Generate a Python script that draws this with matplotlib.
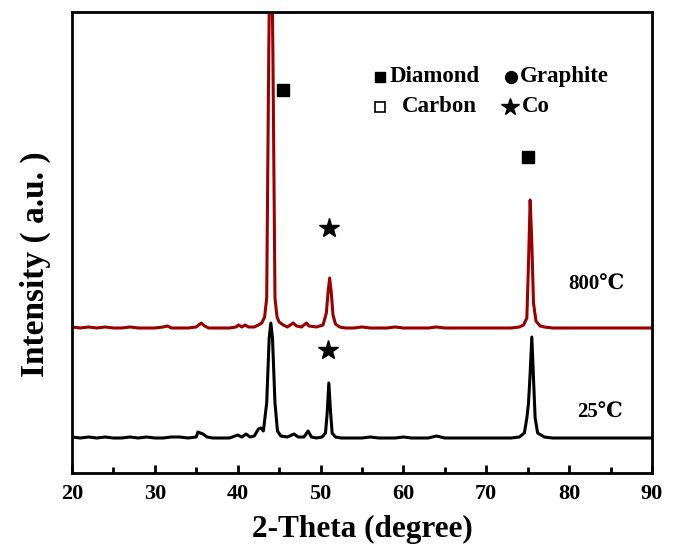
import matplotlib
matplotlib.use("Agg")
import matplotlib.pyplot as plt
from matplotlib.ticker import MultipleLocator

plt.rcParams["font.family"] = ["Liberation Serif", "DejaVu Serif", "Noto Sans CJK SC"]

# ================================
# DATA (intensity in a.u.)
# ================================
theta_800 = [20, 21, 22, 23, 24, 25, 26, 27, 28, 29, 30, 31, 31.5, 32, 33, 34, 35,
             35.3, 35.6, 36, 36.5, 37, 38, 39, 39.8, 40.1, 40.5, 40.9, 41.3, 42,
             42.5, 42.9, 43.25, 43.5, 43.75, 44.0, 44.25, 44.5, 44.75, 45, 45.5, 46,
             46.7, 47.1, 47.7, 48.3, 48.6, 49.5, 50.3, 50.7, 50.9, 51.1, 51.3,
             51.5, 51.8, 52.3, 53, 54, 55, 56, 57, 58, 59, 60, 61, 62, 63, 64, 65,
             66, 67, 68, 69, 70, 71, 72, 73, 74, 74.5, 74.9, 75.1, 75.3, 75.5,
             75.7, 76, 76.5, 77, 78, 79, 80, 81, 82, 83, 84, 85, 86, 87, 88, 89, 90]
int_800 = [146, 145, 146, 145, 146, 145, 145, 146, 145, 145, 145, 146, 147, 145, 145, 145, 146,
           148, 150, 147, 145, 145, 145, 145, 146, 148, 146, 148, 146, 146,
           148, 150, 156, 175, 420, 600, 420, 175, 156, 151, 148, 146,
           150, 147, 146, 150, 147, 146, 148, 160, 180, 195, 180,
           158, 149, 146, 145, 145, 146, 145, 145, 145, 146, 145, 145, 145, 145, 146, 145,
           145, 145, 145, 145, 145, 145, 145, 145, 146, 148, 155, 210, 273, 230,
           170, 152, 147, 146, 145, 145, 145, 145, 145, 145, 145, 145, 145, 145, 145, 145, 145]

theta_25 = [20, 21, 22, 23, 24, 25, 26, 27, 28, 29, 30, 31, 32, 33, 34, 35, 35.2,
            35.5, 35.8, 36.3, 37, 38, 39, 40, 40.5, 41, 41.5, 42, 42.5, 42.8, 43.1,
            43.5, 43.8, 44.0, 44.2, 44.5, 44.8, 45.2, 46, 46.8, 47.3, 48, 48.5,
            48.9, 49.5, 50.2, 50.6, 50.8, 51.0, 51.2, 51.4, 51.8, 52.5, 53, 54, 55,
            56, 57, 58, 59, 60, 61, 62, 63, 64, 65, 66, 67, 68, 69, 70, 71, 72, 73,
            74, 74.6, 74.9, 75.1, 75.3, 75.5, 75.7, 75.9, 76.2, 77, 78, 79, 80, 81,
            82, 83, 84, 85, 86, 87, 88, 89, 90]
int_25 = [36, 35, 36, 35, 36, 35, 35, 36, 35, 36, 35, 35, 36, 36, 35, 36, 41,
          40, 39, 36, 35, 35, 35, 38, 36, 39, 36, 37, 44, 45, 42,
          70, 135, 150, 135, 70, 42, 37, 36, 39, 36, 36, 42,
          36, 35, 36, 40, 60, 90, 62, 40, 36, 35, 35, 35, 35,
          36, 35, 35, 35, 36, 35, 35, 35, 37, 35, 35, 35, 35, 35, 35, 35, 35, 35,
          36, 40, 55, 70, 100, 136, 95, 55, 40, 36, 35, 35, 35, 35,
          35, 35, 35, 35, 35, 35, 35, 35, 35]

# phase markers: (2-theta, height)
diamond_marks = [(45.5, 383), (75.0, 316)]
co_marks = [(51.0, 245), (50.9, 123)]

# ================================
# PLOT
# ================================
fig = plt.figure(figsize=(6.74, 5.57), dpi=100)
ax = fig.add_axes([0.1068, 0.1508, 0.8605, 0.8277])

ax.plot(theta_25, int_25, color="black", lw=2.2)
ax.plot(theta_800, int_800, color="#9b0000", lw=2.2)

for x, y in diamond_marks:
    ax.plot(x, y, marker="s", color="black", ms=8, ls="none")
for x, y in co_marks:
    ax.plot(x, y, marker="*", color="black", ms=15, ls="none")

ax.text(83.3, 188, "800℃", fontsize=15, fontweight="bold", ha="center", va="center")
ax.text(83.7, 60, "25℃", fontsize=15, fontweight="bold", ha="center", va="center")

# legend block
ax.plot(57.2, 396, marker="s", color="black", ms=7.5, ls="none")
ax.text(58.3, 396, "Diamond", fontsize=16.5, fontweight="bold", va="center")
ax.plot(73.0, 396, marker="o", color="black", ms=8.5, ls="none")
ax.text(74.0, 396, "Graphite", fontsize=16.5, fontweight="bold", va="center")
ax.plot(57.2, 366, marker="s", mfc="white", mec="black", mew=1.2, ms=7.5, ls="none")
ax.text(59.8, 366, "Carbon", fontsize=16.5, fontweight="bold", va="center")
ax.plot(72.9, 366, marker="*", color="black", ms=13, ls="none")
ax.text(74.3, 366, "Co", fontsize=16.5, fontweight="bold", va="center")

ax.set_xlim(20, 90)
ax.set_ylim(0, 461)
ax.xaxis.set_major_locator(MultipleLocator(10))
ax.xaxis.set_minor_locator(MultipleLocator(5))
ax.set_yticks([])
ax.tick_params(axis="x", which="major", direction="in", length=6, width=2, labelsize=16, pad=8)
ax.tick_params(axis="x", which="minor", direction="in", length=4, width=2)
for lab in ax.get_xticklabels():
    lab.set_fontweight("bold")
for s in ax.spines.values():
    s.set_linewidth(2)

ax.set_xlabel("2-Theta (degree)", fontsize=22.5, fontweight="bold", labelpad=8)
ax.set_ylabel("Intensity ( a.u. )", fontsize=24, fontweight="bold")
ax.yaxis.set_label_coords(-0.037, 0.453)

fig.savefig("out.png", dpi=100)
